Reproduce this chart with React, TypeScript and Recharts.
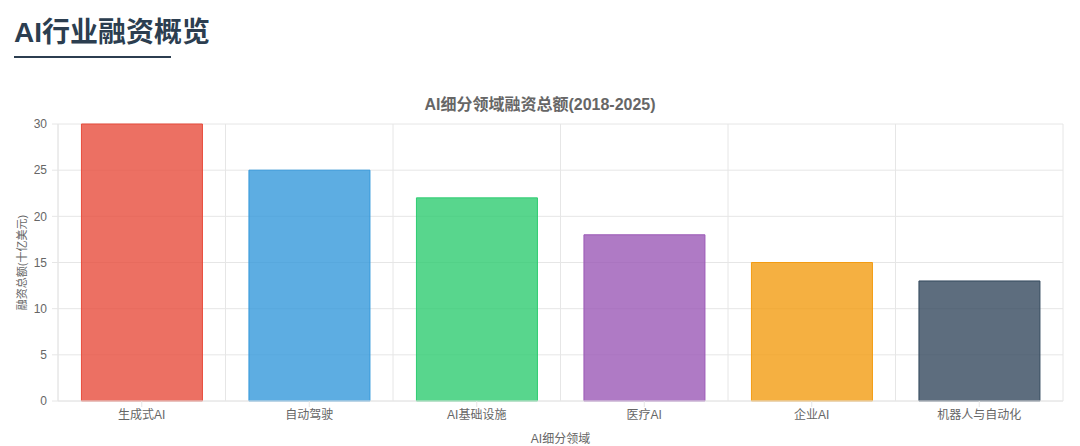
import React from 'react';
import { BarChart, Bar, XAxis, YAxis, CartesianGrid, Cell } from 'recharts';

// Reference values (billion USD, 2018-2025)
const categories = ['生成式AI', '自动驾驶', 'AI基础设施', '医疗AI', '企业AI', '机器人与自动化'];
const totals = [30, 25, 22, 18, 15, 13];
const colors = ['#e74c3c', '#3498db', '#2ecc71', '#9b59b6', '#f39c12', '#34495e'];
const yTicks = [0, 5, 10, 15, 20, 25, 30];

const data = categories.map((name, i) => ({ name, value: totals[i] }));

const FONT = '"Liberation Sans", "Noto Sans CJK SC", sans-serif';
const GRID = '#e6e6e6';

export default function App() {
  return (
    <div
      style={{
        position: 'absolute',
        left: 0,
        top: 0,
        width: 1080,
        height: 446,
        background: '#fff',
        fontFamily: FONT,
      }}
    >
      <div
        style={{
          position: 'absolute',
          left: 14,
          top: 15,
          fontSize: 28,
          fontWeight: 700,
          color: '#2c3e50',
          lineHeight: '36px',
        }}
      >
        AI行业融资概览
      </div>
      <div
        style={{
          position: 'absolute',
          left: 14,
          top: 56,
          width: 157,
          height: 2,
          background: '#2c3e50',
        }}
      />
      <div
        style={{
          position: 'absolute',
          left: 0,
          top: 95,
          width: 1080,
          textAlign: 'center',
          fontSize: 16,
          fontWeight: 700,
          color: '#666',
          lineHeight: '20px',
        }}
      >
        AI细分领域融资总额(2018-2025)
      </div>
      <div style={{ position: 'absolute', left: 0, top: 0 }}>
        <BarChart
          width={1080}
          height={446}
          data={data}
          margin={{ top: 124, right: 17, bottom: 0, left: 0 }}
          barCategoryGap="14%"
        >
          <CartesianGrid
            stroke={GRID}
            verticalCoordinatesGenerator={({ offset }: any) =>
              Array.from(
                { length: categories.length + 1 },
                (_, i) => offset.left + (i * offset.width) / categories.length
              )
            }
          />
          <XAxis
            dataKey="name"
            height={45}
            tickSize={6}
            tickMargin={3}
            axisLine={{ stroke: GRID }}
            tickLine={{ stroke: GRID }}
            tick={{ fill: '#666', fontSize: 12, fontFamily: FONT }}
            interval={0}
            label={{
              value: 'AI细分领域',
              position: 'insideBottom',
              offset: 3,
              fill: '#666',
              fontSize: 12,
              fontFamily: FONT,
            }}
          />
          <YAxis
            width={58}
            domain={[0, 30]}
            ticks={yTicks}
            tickSize={6}
            tickMargin={5}
            axisLine={{ stroke: GRID }}
            tickLine={{ stroke: GRID }}
            tick={{ fill: '#666', fontSize: 12, fontFamily: FONT }}
            label={{
              value: '融资总额(十亿美元)',
              angle: -90,
              position: 'insideLeft',
              offset: 22,
              style: { textAnchor: 'middle' },
              fill: '#666',
              fontSize: 11,
              fontFamily: FONT,
            }}
          />
          <Bar dataKey="value" isAnimationActive={false}>
            {data.map((d, i) => (
              <Cell
                key={d.name}
                fill={colors[i]}
                fillOpacity={0.8}
                stroke={colors[i]}
                strokeWidth={1}
              />
            ))}
          </Bar>
        </BarChart>
      </div>
    </div>
  );
}
